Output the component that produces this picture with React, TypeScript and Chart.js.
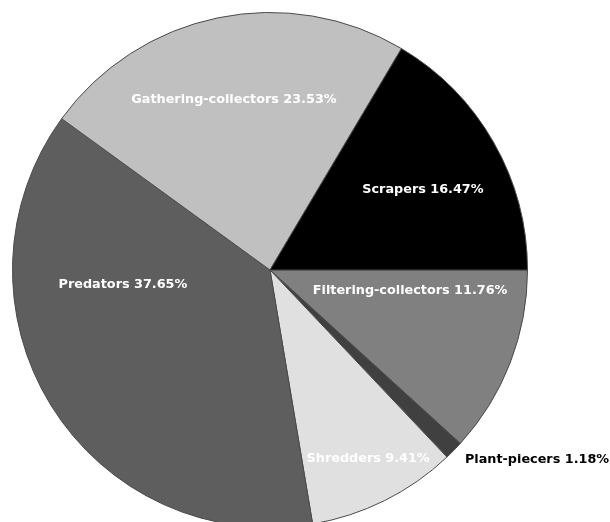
import React, { useEffect, useRef } from "react";
import { Chart, registerables } from "chart.js";

Chart.register(...registerables);

// Functional feeding groups (counts of taxa), clockwise from 3 o'clock
const categories = [
  "Filtering-collectors",
  "Plant-piecers",
  "Shredders",
  "Predators",
  "Gathering-collectors",
  "Scrapers",
];
const counts = [10, 1, 8, 32, 20, 14];
const percentLabels = ["11.76%", "1.18%", "9.41%", "37.65%", "23.53%", "16.47%"];

const sliceColors = ["#808080", "#404040", "#e0e0e0", "#5e5e5e", "#c0c0c0", "#000000"];

// Label anchor of each slice, as a fraction of the pie radius from its centre
const labelOffsets: [number, number][] = [
  [0.544, 0.082],
  [0.757, 0.738],
  [0.381, 0.734],
  [-0.571, 0.058],
  [-0.14, -0.66],
  [0.594, -0.311],
];
const labelAlign: CanvasTextAlign[] = ["center", "left", "center", "center", "center", "center"];
const labelColors = ["#ffffff", "#000000", "#ffffff", "#ffffff", "#ffffff", "#ffffff"];

const sliceLabels = {
  id: "sliceLabels",
  afterDatasetsDraw(chart: Chart) {
    const ctx = chart.ctx;
    const meta = chart.getDatasetMeta(0);
    ctx.save();
    ctx.font = 'bold 12.8px "DejaVu Sans", sans-serif';
    ctx.textBaseline = "middle";
    meta.data.forEach((el: any, i: number) => {
      const { x, y, outerRadius } = el.getProps(["x", "y", "outerRadius"], true);
      const [fx, fy] = labelOffsets[i];
      ctx.textAlign = labelAlign[i];
      ctx.fillStyle = labelColors[i];
      ctx.fillText(
        `${categories[i]} ${percentLabels[i]}`,
        x + fx * outerRadius,
        y + fy * outerRadius
      );
    });
    ctx.restore();
  },
};

export default function App() {
  const canvasRef = useRef<HTMLCanvasElement | null>(null);

  useEffect(() => {
    if (!canvasRef.current) return;
    const chart = new Chart(canvasRef.current, {
      type: "pie",
      data: {
        labels: categories,
        datasets: [
          {
            data: counts,
            backgroundColor: sliceColors,
            borderColor: "#4a4a4a",
            borderWidth: 1,
          },
        ],
      },
      options: {
        responsive: false,
        animation: false,
        rotation: 90,
        layout: { padding: { left: 12, top: 12, right: 82, bottom: 12 } },
        plugins: {
          legend: { display: false },
          tooltip: { enabled: false },
        },
      },
      plugins: [sliceLabels],
    });
    return () => chart.destroy();
  }, []);

  return (
    <div
      style={{
        position: "absolute",
        left: 0,
        top: 0,
        width: 610,
        height: 522,
        overflow: "hidden",
        background: "#ffffff",
      }}
    >
      <canvas ref={canvasRef} width={610} height={540} style={{ display: "block" }} />
    </div>
  );
}
